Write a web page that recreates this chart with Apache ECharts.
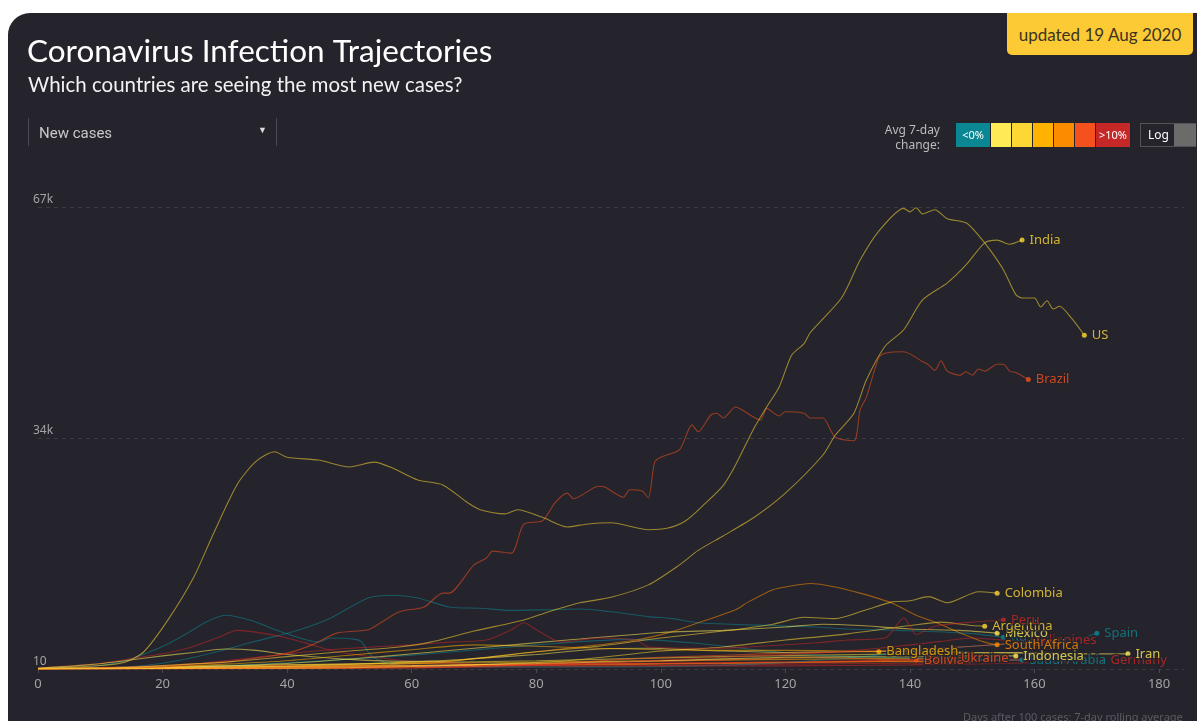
<!DOCTYPE html>
<html>
<head>
<meta charset="utf-8">
<script src="https://cdn.jsdelivr.net/npm/echarts@6/dist/echarts.min.js"></script>
<style>
  html, body { margin: 0; padding: 0; background: #fff; width: 1197px; height: 721px; overflow: hidden; }
  .card { position: absolute; left: 8px; top: 13px; width: 1189px; height: 708px; background: #25232b; border-top-left-radius: 22px; }
  #chart { position: absolute; left: 0; top: 0; width: 1197px; height: 721px; }
  .badge { position: absolute; left: 1007px; top: 13px; width: 186px; height: 42px; background: #fbca34; border-radius: 0 0 5px 5px;
    font: 17px Lato, sans-serif; color: #3b3422; text-align: center; line-height: 44px; }
  .dropdown { position: absolute; left: 28px; top: 118px; width: 247px; height: 28px; border-left: 1px solid #4a4850; border-right: 1px solid #4a4850;
    font: 15px Roboto, sans-serif; color: #c8c8c8; }
  .dropdown span { position: absolute; left: 10px; top: 6px; }
  .dropdown i { position: absolute; left: 229px; top: 7px; font-style: normal; font-size: 9px; color: #ddd; }
  .legtxt { position: absolute; left: 860px; top: 122px; width: 80px; text-align: right; font: 12px "Noto Sans", sans-serif; color: #bdbdbd; line-height: 15px; }
  .sw { position: absolute; top: 123px; height: 24px; font: 11px "Noto Sans", sans-serif; color: #fff; text-align: center; line-height: 23px; }
  .log { position: absolute; left: 1140px; top: 123px; width: 56px; height: 24px; border: 1px solid #55535a; box-sizing: border-box;
    font: 12px "Noto Sans", sans-serif; color: #fff; line-height: 22px; }
  .log span { position: absolute; left: 7px; }
  .log b { position: absolute; left: 33px; top: 0; width: 22px; height: 22px; background: #6b6b6b; }
  .note { position: absolute; left: 963px; top: 709px; font: 11px "Noto Sans", sans-serif; color: #5d5b63; white-space: nowrap; }
</style>
</head>
<body>
<div class="card"></div>
<div id="chart"></div>
<div class="badge">updated 19 Aug 2020</div>
<div class="dropdown"><span>New cases</span><i>&#9660;</i></div>
<div class="legtxt">Avg 7-day<br>change:</div>
<div class="sw" style="left:956px;width:34px;background:#0b8793">&lt;0%</div>
<div class="sw" style="left:991px;width:20px;background:#ffeb55"></div>
<div class="sw" style="left:1012px;width:20px;background:#fdd835"></div>
<div class="sw" style="left:1033px;width:20px;background:#ffb300"></div>
<div class="sw" style="left:1054px;width:20px;background:#fb8c00"></div>
<div class="sw" style="left:1075px;width:20px;background:#f4511e"></div>
<div class="sw" style="left:1096px;width:34px;background:#c62828">&gt;10%</div>
<div class="log"><span>Log</span><b></b></div>
<div class="note">Days after 100 cases; 7-day rolling average</div>
<script>
// days after 100 cases -> 7-day average new cases
var us = [[0,100],[5,250],[10,500],[14,1000],[17,2500],[21,7300],[25,13300],[28,19300],[32,26800],[35,30100],[38,31500],[40,30700],[45,30300],[50,29300],[54,30000],[57,29100],[61,27400],[65,26700],[69,24100],[71,23100],[75,22500],[77,23100],[81,22000],[85,20600],[88,21000],[92,21200],[98,20200],[101,20400],[104,21500],[107,23900],[110,26600],[112,29600],[115,35000],[117,38000],[119,40900],[121,45500],[123,47200],[124,48800],[129,53800],[132,59300],[135,63500],[139,66800],[140,66300],[141,66900],[142,66000],[144,66600],[146,65300],[149,64700],[151,62900],[153,60600],[155,57900],[157,54300],[158,53800],[160,53800],[161,52500],[162,53400],[163,52200],[164,52600],[166,50800],[168,48400]]
var india = [[0,80],[10,100],[20,500],[30,1000],[40,1800],[50,2600],[58,3200],[63,3900],[70,5500],[78,7100],[82,8300],[87,9600],[92,10400],[98,12200],[103,15100],[106,17200],[110,19300],[115,22000],[120,25500],[126,31000],[128,33900],[131,37100],[133,41900],[136,46800],[139,49200],[142,53500],[146,56000],[149,58600],[152,61800],[154,62200],[156,61600],[158,62200]]
var brazil = [[0,80],[10,200],[20,500],[30,1000],[36,1700],[40,2300],[44,3500],[48,5200],[53,5700],[55,6700],[58,8300],[62,9000],[65,11000],[66,11000],[70,15100],[72,16100],[73,17100],[76,16800],[78,21000],[81,21500],[83,24100],[85,25500],[86,24700],[90,26500],[91,26400],[94,24900],[95,26000],[97,25800],[98,24800],[99,30000],[100,30700],[103,31800],[105,35400],[106,34400],[108,36800],[109,37100],[110,36400],[112,38000],[113,37600],[116,36100],[117,37800],[119,36700],[120,37300],[123,37100],[124,36400],[126,36400],[128,33600],[131,33100],[132,37600],[133,39400],[135,45200],[136,45800],[139,46000],[142,44600],[143,44100],[144,43300],[145,44700],[146,43200],[148,42600],[149,43100],[150,42600],[151,43500],[152,43200],[154,44200],[155,44200],[156,43200],[157,43000],[159,42000]]
var colombia = [[0,30],[20,150],[40,400],[60,1000],[70,1500],[80,2500],[90,3300],[100,4500],[110,5500],[118,6500],[123,7500],[128,7300],[133,8600],[137,9700],[140,9900],[143,10500],[146,9600],[151,11200],[154,11000]]
var southAfrica = [[0,30],[20,100],[40,300],[55,600],[65,1000],[75,2000],[85,3000],[90,3500],[96,4200],[101,5200],[106,6700],[112,8600],[114,9700],[118,11500],[120,11900],[124,12400],[128,11900],[132,11000],[137,9600],[141,7800],[144,6800],[149,4900],[152,3900],[154,3500]]
var peru = [[0,20],[20,300],[30,1200],[40,2200],[50,3000],[60,3500],[66,3900],[72,4200],[76,5700],[78,6700],[80,5700],[84,3900],[87,4200],[90,4500],[96,4200],[98,3200],[109,3000],[114,3200],[125,3800],[130,4200],[136,4500],[139,7400],[141,5000],[144,6200],[150,6800],[155,7100]]
var argentina = [[0,20],[30,100],[50,200],[70,600],[85,1200],[100,2600],[110,3200],[120,4200],[130,5100],[140,6300],[145,6800],[150,6300],[152,6200]]
var mexico = [[0,20],[20,200],[40,800],[55,1800],[70,3000],[85,4200],[100,5300],[110,5600],[120,6100],[126,6500],[132,6300],[140,5800],[148,5600],[154,5200]]
var russia = [[0,30],[10,150],[17,500],[23,1300],[30,2800],[34,3800],[42,5700],[47,7400],[53,10300],[57,10700],[61,10300],[66,9000],[71,8800],[76,8500],[82,8600],[87,8700],[92,8300],[98,7600],[102,7300],[106,6700],[114,6400],[125,6100],[130,5800],[138,5600],[149,5200],[155,4600]]
var spain = [[0,100],[8,300],[12,800],[15,1500],[18,2500],[21,3700],[24,5200],[27,6800],[30,7800],[34,7100],[39,5400],[45,3900],[47,4500],[51,4300],[52,3900],[53,2500],[54,1600],[58,500],[70,350],[85,300],[100,350],[115,700],[130,1600],[140,2500],[150,3300],[160,3800],[166,4100],[170,5200]]
var germany = [[0,150],[10,800],[15,1500],[20,2200],[24,3000],[29,4600],[32,5600],[36,5200],[40,4500],[44,3500],[48,2500],[55,1600],[60,1100],[70,700],[80,500],[100,450],[120,450],[140,600],[160,900],[171,1200]]
var iran = [[0,100],[8,600],[14,1200],[20,1900],[25,2400],[30,2900],[35,2700],[40,2100],[50,1400],[60,1100],[65,1100],[70,1500],[80,2100],[90,2900],[98,3000],[110,2600],[120,2400],[130,2500],[140,2600],[150,2400],[160,2300],[168,2200],[175,2200]]
var bangladesh = [[0,20],[20,300],[30,700],[40,1200],[50,2000],[60,2800],[70,3500],[80,3300],[90,3000],[100,2800],[110,2700],[120,2700],[130,2600],[135,2500]]
var bolivia = [[0,10],[30,50],[50,200],[70,600],[90,900],[110,1300],[125,1700],[135,1400],[141,1300]]
var ukraine = [[0,10],[20,200],[40,450],[60,500],[80,700],[100,800],[120,900],[135,1200],[147,1600]]
var indonesia = [[0,30],[20,250],[40,350],[60,500],[80,800],[100,1200],[120,1700],[140,1800],[150,1900],[157,1900]]
var saudiArabia = [[0,20],[20,150],[40,900],[60,2000],[80,3500],[95,4300],[105,3800],[115,2800],[125,2000],[135,1700],[145,1500],[158,1300]]
var iraq = [[0,10],[30,50],[60,150],[80,700],[90,1200],[100,1700],[110,2000],[120,2300],[130,2500],[140,2800],[150,3300],[159,3900]]
var philippines = [[0,20],[20,250],[40,250],[60,300],[80,500],[100,1300],[115,1900],[125,2300],[135,3000],[145,4000],[150,4500],[155,4200],[158,4100]]
// faint unlabeled lines in the low band
var low1 = [[0,20],[30,150],[60,400],[90,700],[120,1000],[150,1200],[160,1300]]
var low2 = [[0,20],[40,300],[80,600],[110,900],[140,1300],[165,1500]]
var low3 = [[0,30],[30,500],[60,800],[90,1100],[120,1400],[150,1600]]
var low4 = [[0,20],[50,200],[80,500],[110,800],[140,1100],[150,1000]]
var low5 = [[0,10],[40,100],[80,300],[120,700],[150,900]]
var low6 = [[0,20],[40,600],[80,1200],[110,1800],[140,2200],[160,2400]]

var yTicks = [0, 33500, 67000]
var xTicks = [0, 20, 40, 60, 80, 100, 120, 140, 160, 180]

var C = { teal: '#0b8793', y1: '#ffee58', y2: '#fdd835', amber: '#ffb300', orange: '#fb8c00', deep: '#f4511e', red: '#c62828' }

var others = [
  { data: low1, color: C.deep },
  { data: low2, color: C.red },
  { data: low3, color: C.amber },
  { data: low4, color: C.orange },
  { data: low5, color: C.red },
  { data: low6, color: C.y2 }
]

var countries = [
  { name: 'Russia', data: russia, color: C.teal },
  { name: 'Saudi Arabia', data: saudiArabia, color: C.teal },
  { name: 'Spain', data: spain, color: C.teal },
  { name: 'Germany', data: germany, color: C.red },
  { name: 'Bolivia', data: bolivia, color: C.deep },
  { name: 'Ukraine', data: ukraine, color: C.deep },
  { name: 'Iran', data: iran, color: C.y1 },
  { name: 'Indonesia', data: indonesia, color: C.y1 },
  { name: 'Bangladesh', data: bangladesh, color: C.amber },
  { name: 'Philippines', data: philippines, color: C.red },
  { name: 'Iraq', data: iraq, color: C.deep },
  { name: 'South Africa', data: southAfrica, color: C.orange },
  { name: 'Mexico', data: mexico, color: C.y1 },
  { name: 'Argentina', data: argentina, color: C.y2 },
  { name: 'Peru', data: peru, color: C.red },
  { name: 'Colombia', data: colombia, color: C.y2 },
  { name: 'Brazil', data: brazil, color: C.deep },
  { name: 'India', data: india, color: C.y2 },
  { name: 'US', data: us, color: C.y2 }
]

var chart = echarts.init(document.getElementById('chart'))

function lineSeries(c) {
  return {
    name: c.name,
    type: 'line',
    data: c.data,
    smooth: 0.25,
    showSymbol: false,
    silent: true,
    lineStyle: { color: c.color, width: 1.1, opacity: 0.55 }
  }
}

var series = others.map(lineSeries).concat(countries.map(lineSeries))

series.push({
  type: 'scatter',
  symbolSize: 5,
  silent: true,
  z: 5,
  data: countries.map(function (c) {
    return {
      name: c.name,
      value: c.data[c.data.length - 1],
      itemStyle: { color: c.color },
      label: { color: c.color }
    }
  }),
  label: {
    show: true,
    position: 'right',
    distance: 5,
    formatter: '{b}',
    fontFamily: 'Noto Sans',
    fontSize: 13,
    textBorderColor: '#25232b',
    textBorderWidth: 3
  }
})

chart.setOption({
  backgroundColor: 'transparent',
  animation: false,
  title: [{
    text: 'Coronavirus Infection Trajectories',
    left: 27, top: 36, padding: 0,
    textStyle: { color: '#ffffff', fontFamily: 'Lato', fontWeight: 'normal', fontSize: 31.5 }
  }, {
    text: 'Which countries are seeing the most new cases?',
    left: 28, top: 75, padding: 0,
    textStyle: { color: '#f2f2f2', fontFamily: 'Lato', fontWeight: 'normal', fontSize: 20.5 }
  }],
  grid: { left: 38, right: 13, top: 207, bottom: 52 },
  xAxis: {
    type: 'value',
    min: xTicks[0],
    max: 184,
    interval: 20,
    axisLine: { show: false },
    axisTick: { show: true, length: 4, lineStyle: { color: '#4a4850' } },
    splitLine: { show: false },
    axisLabel: {
      showMaxLabel: false,
      margin: 9,
      color: '#a4a3a8',
      fontFamily: 'Noto Sans',
      fontSize: 13
    }
  },
  yAxis: {
    type: 'value',
    min: yTicks[0],
    max: yTicks[2],
    interval: yTicks[1],
    axisLine: { show: false },
    axisTick: { show: false },
    splitLine: { show: true, lineStyle: { color: '#3c3a44', type: [4, 4], width: 1 } },
    axisLabel: {
      inside: true,
      margin: -5,
      verticalAlign: 'bottom',
      padding: [0, 0, 1, 0],
      color: '#a4a3a8',
      fontFamily: 'Noto Sans',
      fontSize: 12,
      formatter: function (v) { return v === 0 ? '10' : Math.round(v / 1000) + 'k' }
    }
  },
  series: series
})
</script>
</body>
</html>
